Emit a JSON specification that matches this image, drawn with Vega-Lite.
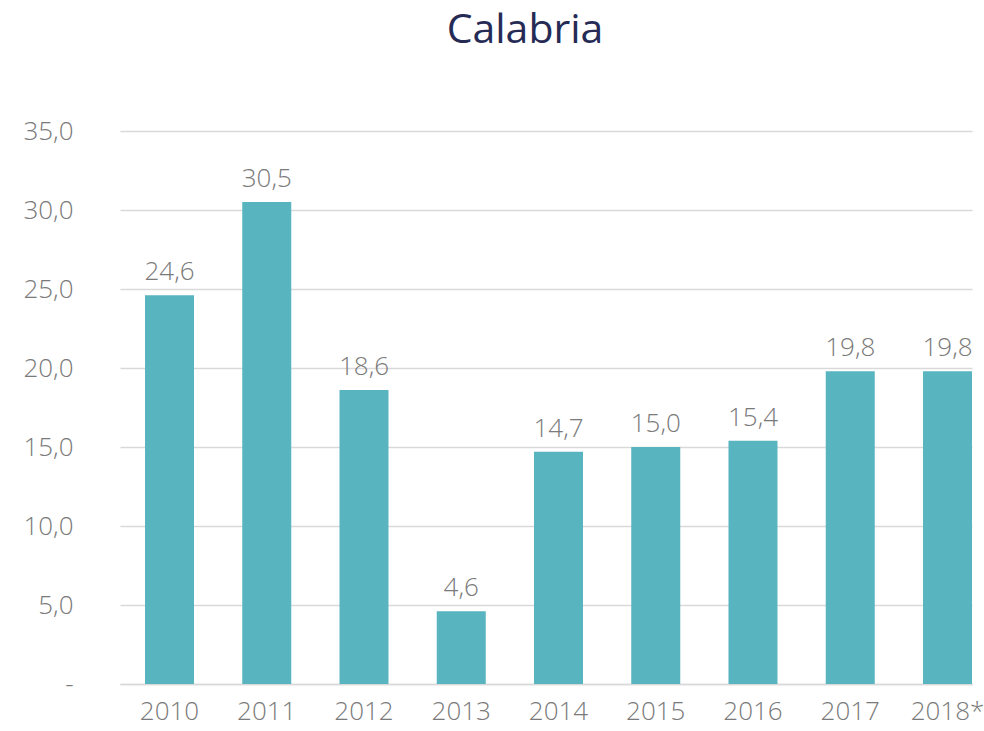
{
  "$schema": "https://vega.github.io/schema/vega-lite/v6.json",
  "autosize": {"type": "none"},
  "width": 852,
  "height": 553,
  "padding": {"left": 120, "top": 131, "right": 12, "bottom": 47},
  "background": "white",
  "title": {"text": "Calabria", "fontSize": 41, "font": "Open Sans", "fontWeight": "normal", "color": "#262B55", "anchor": "middle", "dx": -21, "offset": 66},
  "data": {"values": [
    {"year": "2010", "v": 24.6},
    {"year": "2011", "v": 30.5},
    {"year": "2012", "v": 18.6},
    {"year": "2013", "v": 4.6},
    {"year": "2014", "v": 14.7},
    {"year": "2015", "v": 15.0},
    {"year": "2016", "v": 15.4},
    {"year": "2017", "v": 19.8},
    {"year": "2018*", "v": 19.8}
  ]},
  "encoding": {
    "x": {"field": "year", "type": "nominal", "sort": null,
      "scale": {"paddingInner": 0.496, "paddingOuter": 0.1285, "align": 1},
      "axis": {"title": null, "labelAngle": 0, "labelFontSize": 26, "labelFont": "Open Sans", "labelFontWeight": 300, "labelColor": "#7a7a7a", "ticks": false, "domainColor": "#d9d9d9", "domainWidth": 1.5, "labelPadding": 14}},
    "y": {"field": "v", "type": "quantitative",
      "scale": {"domain": [0, 35]},
      "axis": {"title": null, "values": [0, 5, 10, 15, 20, 25, 30, 35], "format": ".1f", "labelExpr": "datum.value == 0 ? '-' : datum.label", "labelFontSize": 26, "labelFont": "Open Sans", "labelFontWeight": 300, "labelColor": "#7a7a7a", "ticks": false, "domain": false, "gridColor": "#d9d9d9", "gridWidth": 1.5, "labelPadding": 47}}
  },
  "layer": [
    {"mark": {"type": "bar", "color": "#58B5C0"}},
    {"mark": {"type": "text", "baseline": "alphabetic", "dy": -15, "fontSize": 26, "font": "Open Sans", "fontWeight": 300, "color": "#7a7a7a"},
     "encoding": {"text": {"field": "v", "type": "quantitative", "format": ".1f"}}}
  ],
  "config": {
    "view": {"stroke": null},
    "locale": {"number": {"decimal": ",", "thousands": ".", "grouping": [3], "currency": ["", " €"]}}
  }
}
